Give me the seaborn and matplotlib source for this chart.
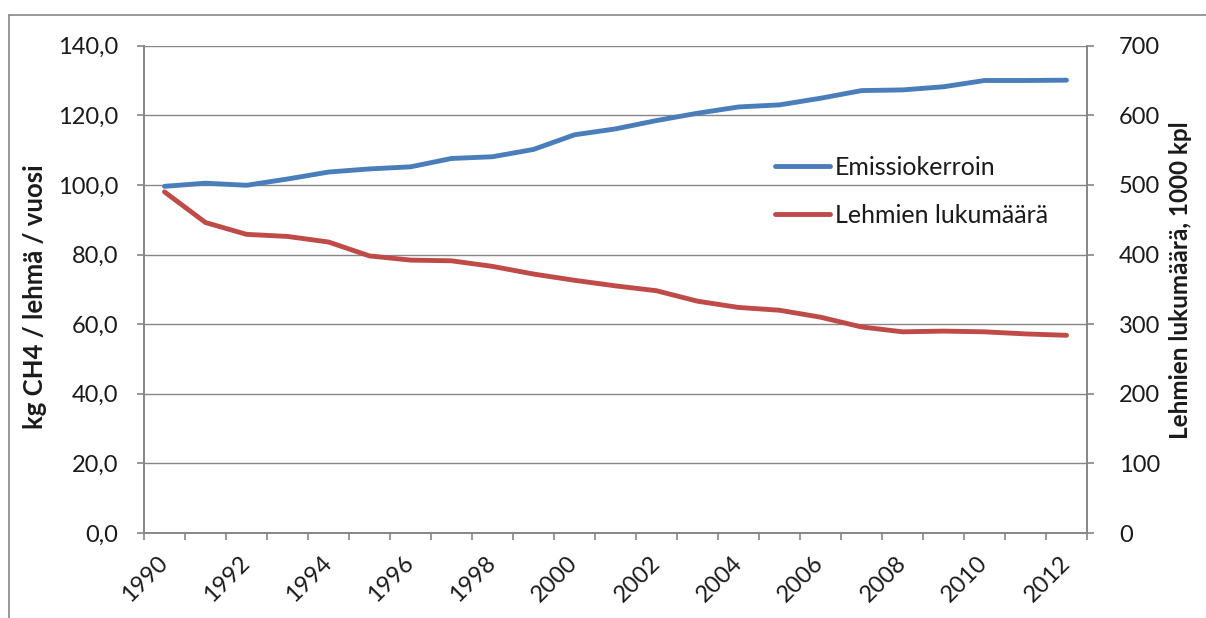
import matplotlib
matplotlib.use("Agg")
import matplotlib.pyplot as plt
from matplotlib.lines import Line2D
from matplotlib.ticker import FixedLocator, FuncFormatter
import seaborn as sns
import pandas as pd
import numpy as np

# --- data -------------------------------------------------------------
years = list(range(1990, 2013))
emissiokerroin = [99.6, 100.5, 99.9, 101.7, 103.7, 104.6, 105.2, 107.6, 108.1, 110.2,
                  114.4, 116.1, 118.5, 120.6, 122.4, 123.0, 124.9, 127.1, 127.3, 128.2,
                  130.0, 130.0, 130.1]
lehmien_lukumaara = [490, 446, 429, 426, 418, 398, 392, 391, 383, 372,
                     363, 355, 348, 333, 324, 320, 310, 296, 289, 290,
                     289, 286, 284]
left_ticks = [0, 20, 40, 60, 80, 100, 120, 140]
right_ticks = [0, 100, 200, 300, 400, 500, 600, 700]
year_labels = [str(y) for y in years[::2]]

series_names = ["Emissiokerroin", "Lehmien lukumäärä"]
left_label = "kg CH4 / lehmä / vuosi"
right_label = "Lehmien lukumäärä, 1000 kpl"

# --- style ------------------------------------------------------------
sns.set_theme(style="white")
plt.rcParams["font.family"] = ["Lato", "DejaVu Sans"]

BLUE = "#4A7EBB"
RED = "#BE4B48"
GRID = "#868686"
TEXT = "#1a1a1a"
FS = 17

W, H = 1206, 618
fig = plt.figure(figsize=(W / 100, H / 100), dpi=100)
fig.patch.set_facecolor("white")

x0, x1, y0, y1 = 144, 1087, 45.7, 533
ax = fig.add_axes([x0 / W, 1 - y1 / H, (x1 - x0) / W, (y1 - y0) / H])
ax2 = ax.twinx()

df = pd.DataFrame({"pos": np.arange(len(years)),
                   "vuosi": years,
                   "Emissiokerroin": emissiokerroin,
                   "Lehmien lukumäärä": lehmien_lukumaara})

lw = 3.5
sns.lineplot(data=df, x="pos", y="Emissiokerroin", ax=ax, color=BLUE,
             linewidth=lw, solid_capstyle="round", solid_joinstyle="round")
sns.lineplot(data=df, x="pos", y="Lehmien lukumäärä", ax=ax2, color=RED,
             linewidth=lw, solid_capstyle="round", solid_joinstyle="round")

# --- axes -------------------------------------------------------------
n = len(years)
for a in (ax, ax2):
    a.set_xlim(-0.5, n - 0.5)
    for s in a.spines.values():
        s.set_visible(False)

ax.set_ylim(0, 140)
ax2.set_ylim(0, 700)

ax.set_yticks(left_ticks)
ax.yaxis.set_major_formatter(FuncFormatter(lambda v, p: f"{v:.1f}".replace(".", ",")))
ax2.set_yticks(right_ticks)
ax2.set_yticklabels([str(t) for t in right_ticks])

ax.grid(axis="y", color=GRID, linewidth=1.0)
ax.grid(axis="x", visible=False)
ax2.grid(False)

ax.spines["left"].set_visible(True)
ax.spines["bottom"].set_visible(True)
ax2.spines["right"].set_visible(True)
for s in (ax.spines["left"], ax.spines["bottom"], ax2.spines["right"]):
    s.set_color(GRID)
    s.set_linewidth(1.4)

ax.tick_params(axis="y", which="major", left=True, length=5, width=1.2, color=GRID,
               pad=13.5, labelsize=FS, labelcolor=TEXT)
ax2.tick_params(axis="y", which="major", right=True, length=5, width=1.2, color=GRID,
                pad=18, labelsize=FS, labelcolor=TEXT)

# category labels at centres, tick marks at category boundaries
ax.set_xticks(np.arange(0, n, 2))
ax.set_xticklabels(year_labels, rotation=45, ha="right", va="center",
                   rotation_mode="anchor")
ax.xaxis.set_minor_locator(FixedLocator(np.arange(-0.5, n, 1.0)))
ax.tick_params(axis="x", which="major", bottom=True, length=0, pad=19,
               labelsize=FS, labelcolor=TEXT)
ax.tick_params(axis="x", which="minor", bottom=True, length=5, width=1.2, color=GRID)
ax.set_xlabel("")

ax.set_ylabel(left_label, fontsize=18.5, fontweight="bold", color=TEXT,
              va="center", ha="center")
ax.yaxis.set_label_coords((35 - x0) / (x1 - x0), (y1 - 297) / (y1 - y0))
ax2.set_ylabel(right_label, fontsize=17.5, fontweight="bold", color=TEXT,
               va="center", ha="center", rotation=90)
ax2.yaxis.set_label_coords((1180 - x0) / (x1 - x0), (y1 - 280) / (y1 - y0))

# --- legend -----------------------------------------------------------
handles = [Line2D([], [], color=BLUE, linewidth=lw, solid_capstyle="round"),
           Line2D([], [], color=RED, linewidth=lw, solid_capstyle="round")]
leg = ax2.legend(handles, series_names, frameon=False, fontsize=18,
                 loc="upper left", bbox_to_anchor=(765 / W, 1 - 146 / H),
                 bbox_transform=fig.transFigure, handlelength=2.2,
                 handletextpad=0.2, labelspacing=1.0, borderaxespad=0)
for t in leg.get_texts():
    t.set_color(TEXT)

# chart-area border
fig.add_artist(Line2D([9 / W, 9 / W], [0, 1 - 15 / H], transform=fig.transFigure,
                      color=GRID, linewidth=1.2))
fig.add_artist(Line2D([9 / W, 1], [1 - 15 / H, 1 - 15 / H], transform=fig.transFigure,
                      color=GRID, linewidth=1.2))

fig.savefig("out.png", dpi=100, facecolor="white")
